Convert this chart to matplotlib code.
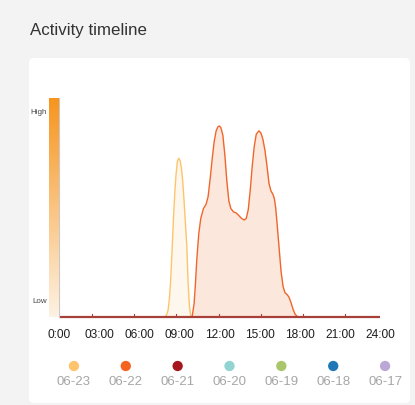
import numpy as np
import matplotlib
matplotlib.use("Agg")
import matplotlib.pyplot as plt
from matplotlib.patches import FancyBboxPatch

plt.rcParams['font.family'] = ['Liberation Sans', 'DejaVu Sans']

# ---- data ----
days = ["06-23", "06-22", "06-21", "06-20", "06-19", "06-18", "06-17"]
day_colors = ["#fdc46c", "#f4641c", "#a5171c", "#92d4d1", "#a9c66a", "#1f78b5", "#bba8d6"]

hours_0623 = [0, 7.9, 8.05, 8.15, 8.25, 8.35, 8.45, 8.55, 8.65, 8.75, 8.85, 8.95,
              9.05, 9.15, 9.25, 9.35, 9.45, 9.55, 9.65, 9.75, 9.85, 9.95, 24]
act_0623 = [0, 0, 1, 3, 8, 17, 30, 44, 56, 65, 71, 72.5,
            71.5, 68, 62, 53, 43, 33, 16, 5, 0.5, 0, 0]

hours_0622 = [0, 9.95, 10.1, 10.2, 10.3, 10.45, 10.6, 10.8, 11.0, 11.15, 11.3, 11.45,
              11.6, 11.75, 11.9, 12.0, 12.1, 12.25, 12.4, 12.55, 12.7, 12.85, 13.05,
              13.25, 13.45, 13.65, 13.85, 14.0, 14.15, 14.3, 14.45, 14.6, 14.75, 14.95,
              15.1, 15.25, 15.4, 15.55, 15.7, 15.85, 16.0, 16.1, 16.2, 16.3, 16.45,
              16.6, 16.75, 16.9, 17.05, 17.2, 17.35, 17.5, 17.65, 17.85, 24]
act_0622 = [0, 0, 6, 15, 26, 38, 45, 49.5, 51.5, 55, 63, 72,
            80, 85, 87, 87.2, 86.5, 83, 74, 62, 53, 49.5, 48,
            47.5, 46.3, 45, 44.3, 45, 49, 58, 69, 78, 83.5, 85,
            84, 81, 76, 69, 61, 57.5, 56, 54, 50, 43, 32,
            21, 14, 11, 10.3, 9, 6.5, 3.5, 1.3, 0, 0]

hours_0621 = [0, 24]
act_0621 = [0, 0]

hour_ticks = [0, 3, 6, 9, 12, 15, 18, 21, 24]
hour_labels = ["0:00", "03:00", "06:00", "09:00", "12:00", "15:00", "18:00", "21:00", "24:00"]

W, H = 415, 406
fig = plt.figure(figsize=(W / 100, H / 100), dpi=100)
fig.patch.set_facecolor("#f4f3f4")

def box(x0, y0, x1, y1):
    # pixel box (top-left origin) -> figure fraction rect
    return [x0 / W, 1 - y1 / H, (x1 - x0) / W, (y1 - y0) / H]

# white card
card = FancyBboxPatch((29 / W, 1 - 404 / H), 381 / W, 345 / H,
                      boxstyle="round,pad=0,rounding_size=0.012",
                      transform=fig.transFigure, facecolor="white",
                      edgecolor="none", zorder=-10)
fig.add_artist(card)

fig.text(30 / W, 1 - 30 / H, "Activity timeline", fontsize=12.2,
         color="#333333", va="center", ha="left")

# main plot
ax = fig.add_axes(box(59, 99, 380, 318))
ax.set_facecolor("none")
ax.set_xlim(0, 24)
ax.set_ylim(0, 100)

ax.fill_between(hours_0623, act_0623, color=day_colors[0], alpha=0.12, lw=0)
ax.plot(hours_0623, act_0623, color=day_colors[0], lw=1.0)
ax.fill_between(hours_0622, act_0622, color="#f07a45", alpha=0.18, lw=0)
ax.plot(hours_0622, act_0622, color="#f0662a", lw=1.0)
ax.plot(hours_0621, act_0621, color="#a8403a", lw=1.6, solid_capstyle="butt", clip_on=False)

for s in ["top", "right", "bottom"]:
    ax.spines[s].set_visible(False)
ax.spines["left"].set_color("#c8c8c8")
ax.spines["left"].set_linewidth(0.8)
ax.set_yticks([])
ax.set_xticks(hour_ticks)
ax.set_xticklabels(hour_labels, fontsize=8.6, color="#1e1e1e")
ax.tick_params(axis="x", length=0, pad=8)
# small marks on the baseline (offset from labels as in the original)
for t in [2.45, 5.61, 8.77, 11.93, 15.09, 18.25, 21.41]:
    ax.plot([t, t], [0, 1.5], color="#a8403a", lw=0.8)

# colour scale bar
cax = fig.add_axes(box(49, 99, 58.5, 318))
grad = np.linspace(1, 0, 256).reshape(-1, 1)
cmap = matplotlib.colors.LinearSegmentedColormap.from_list("act", ["#fdf2e3", "#f7951e"])
cax.imshow(grad, aspect="auto", cmap=cmap, extent=[0, 1, 0, 1])
cax.set_axis_off()
fig.text(46.7 / W, 1 - 112.5 / H, "High", fontsize=5.8, color="#444444", ha="right", va="center")
fig.text(46.7 / W, 1 - 302 / H, "Low", fontsize=5.8, color="#444444", ha="right", va="center")

# legend
lax = fig.add_axes(box(48, 355, 411, 395))
lax.set_xlim(-0.5, len(days) - 0.5)
lax.set_ylim(395, 355)
lax.set_axis_off()
for i, (d, c) in enumerate(zip(days, day_colors)):
    lax.scatter([i], [367], s=55, color=c, edgecolors="none")
    lax.text(i, 382, d, fontsize=9.5, color="#a6a6a6", ha="center", va="center")

fig.savefig("out.png", dpi=100, facecolor=fig.get_facecolor())
